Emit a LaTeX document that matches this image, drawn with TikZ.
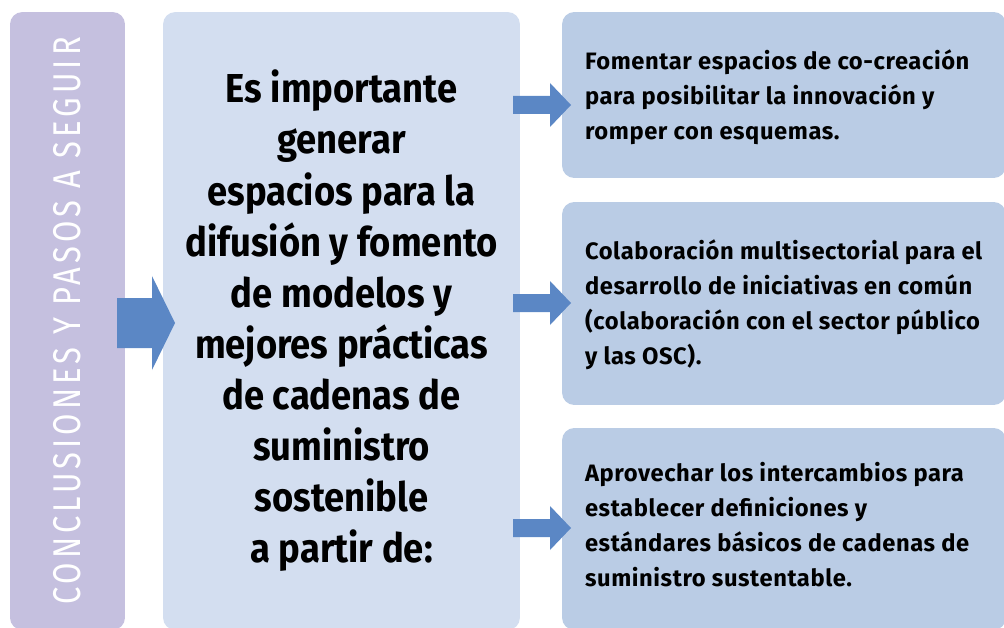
\documentclass[tikz,border=0pt]{standalone}
\usepackage{fontspec}
\usepackage{xcolor}
\usepackage{tikz}
\setmainfont{Fira Sans}
\newfontfamily\sidefont{Fira Sans}[FakeStretch=0.8, LetterSpace=10.5]
\newfontfamily\leadfont{Fira Sans}[FakeStretch=0.9]
\newfontfamily\itemfont{Fira Sans}[LetterSpace=2.5]
\usetikzlibrary{positioning}
\definecolor{sideColor}{RGB}{197, 192, 223}
\definecolor{leadColor}{RGB}{211, 222, 240}
\definecolor{itemColor}{RGB}{186, 204, 229}
\definecolor{arrowColor}{RGB}{91, 135, 197}

\begin{document}
\begin{tikzpicture}[
    x=0.02cm, y=-0.02cm,
    panel/.style={
        rectangle,
        fill=#1,
        draw=none,
        rounded corners=7pt,
        inner sep=0pt
    },
    itembox/.style={
        panel=itemColor,
        minimum width=8.88cm
    },
    itemtext/.style={
        anchor=west,
        inner sep=0pt,
        align=left,
        font=\itemfont\bfseries\fontsize{13.5}{19.9}\selectfont
    }
]
    \path[use as bounding box, clip] (0,0) rectangle (1004,628);

    % Left column
    \node[panel=sideColor, minimum width=2.3cm, minimum height=12.36cm] (side) at (67.5,321) {};
    \node[rotate=90, text=white, font=\sidefont\fontsize{22}{26}\selectfont] (sidelabel) at (side.center) {CONCLUSIONES Y PASOS A SEGUIR};

    % Middle column
    \node[panel=leadColor, minimum width=7.14cm, minimum height=12.36cm,
          align=center, font=\leadfont\bfseries\fontsize{23}{29.1}\selectfont]
          (lead) at (341.5,321)
          {Es importante\\generar\\espacios para la\\difusión y fomento\\de modelos y\\mejores prácticas\\de cadenas de\\suministro\\sostenible\\a partir de:};

    % Right column
    \node[itembox, minimum height=3.32cm] (itemA) at (784,95) {};
    \node[itembox, minimum height=4.06cm] (itemB) at (784,303.5) {};
    \node[itembox, minimum height=4.04cm] (itemC) at (784,529) {};

    \node[itemtext] (textA) at ([xshift=0.46cm, yshift=-0.04cm]itemA.west)
          {Fomentar espacios de co-creación\\para posibilitar la innovación y\\romper con esquemas.};
    \node[itemtext] (textB) at ([xshift=0.46cm, yshift=-0.03cm]itemB.west)
          {Colaboración multisectorial para el\\desarrollo de iniciativas en común\\(colaboración con el sector público\\y las OSC).};
    \node[itemtext] (textC) at ([xshift=0.46cm, yshift=0.08cm]itemC.west)
          {Aprovechar los intercambios para\\establecer definiciones y\\estándares básicos de cadenas de\\suministro sustentable.};

    % Arrows
    \fill[arrowColor] (117,298) -- (152,298) -- (152,276) -- (175,323)
        -- (152,370) -- (152,348) -- (117,348) -- cycle;
    \foreach \cy in {105,303,528} {
        \fill[arrowColor] (513,\cy-9) -- (550,\cy-9) -- (550,\cy-22) -- (571,\cy)
            -- (550,\cy+22) -- (550,\cy+9) -- (513,\cy+9) -- cycle;
    }

\end{tikzpicture}
\end{document}
